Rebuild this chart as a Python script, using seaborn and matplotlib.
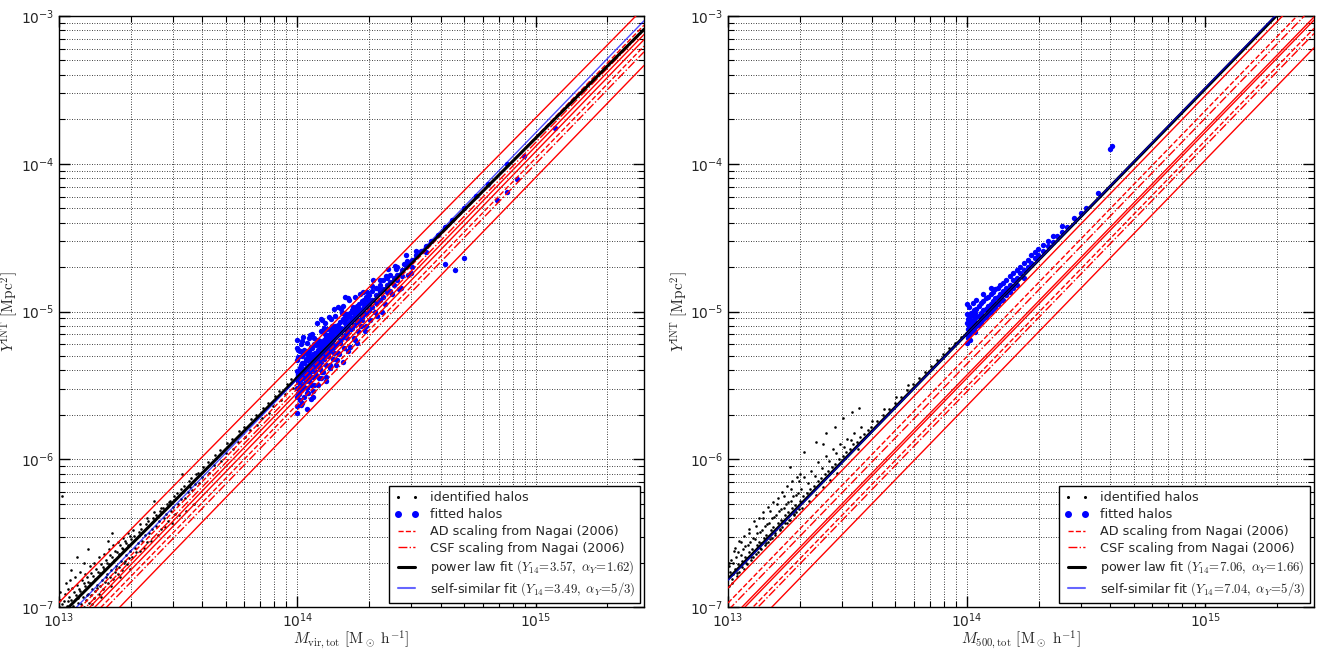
import numpy as np
import matplotlib
matplotlib.use("Agg")
import matplotlib.pyplot as plt
import seaborn as sns
from matplotlib.lines import Line2D

# ---------------- data (log10 M [Msun/h], log10 Y [Mpc^2]) ----------------
left_identified = [
 (13.000,-7.00),(13.003,-7.11),(13.006,-6.95),(13.010,-7.08),(13.012,-6.98),(13.015,-7.14),
 (13.020,-6.96),(13.023,-7.05),(13.026,-6.91),(13.030,-7.09),(13.033,-6.99),(13.036,-6.88),
 (13.040,-7.04),(13.042,-6.93),(13.046,-7.10),(13.050,-6.95),(13.053,-7.05),(13.056,-6.87),(13.052,-6.75),
 (13.060,-6.99),(13.063,-6.90),(13.066,-7.06),(13.070,-6.92),(13.073,-7.02),(13.076,-6.85),
 (13.080,-6.97),(13.083,-6.88),(13.086,-7.03),(13.090,-6.89),(13.093,-6.98),(13.096,-6.82),
 (13.100,-6.93),(13.103,-6.84),(13.106,-7.00),(13.104,-6.70),(13.110,-6.86),(13.113,-6.95),(13.116,-6.80),
 (13.120,-6.91),(13.123,-6.83),(13.126,-6.97),(13.130,-6.84),(13.133,-6.92),(13.136,-6.77),
 (13.140,-6.88),(13.143,-6.79),(13.146,-6.94),(13.150,-6.81),(13.153,-6.89),(13.156,-6.74),
 (13.160,-6.85),(13.163,-6.76),(13.166,-6.91),(13.170,-6.77),(13.173,-6.86),(13.176,-6.71),
 (13.180,-6.82),(13.183,-6.73),(13.186,-6.88),(13.190,-6.74),(13.193,-6.83),(13.196,-6.68),
 (13.200,-6.78),(13.203,-6.70),(13.206,-6.84),(13.204,-6.55),(13.210,-6.71),(13.213,-6.80),(13.216,-6.65),
 (13.220,-6.75),(13.223,-6.66),(13.226,-6.81),(13.222,-6.50),(13.230,-6.68),(13.233,-6.76),(13.236,-6.62),
 (13.240,-6.72),(13.243,-6.63),(13.246,-6.78),(13.250,-6.64),(13.253,-6.73),(13.256,-6.58),
 (13.260,-6.69),(13.263,-6.60),(13.266,-6.75),(13.270,-6.61),(13.273,-6.70),(13.276,-6.55),
 (13.280,-6.65),(13.283,-6.57),(13.286,-6.71),(13.290,-6.58),(13.293,-6.67),(13.296,-6.52),
 (13.300,-6.62),(13.304,-6.54),(13.308,-6.66),(13.315,-6.52),(13.319,-6.60),
 (13.330,-6.57),(13.334,-6.49),(13.338,-6.62),(13.345,-6.47),(13.349,-6.55),
 (13.360,-6.51),(13.364,-6.44),(13.368,-6.56),(13.375,-6.42),(13.379,-6.50),
 (13.390,-6.47),(13.394,-6.40),(13.398,-6.28),(13.405,-6.38),(13.409,-6.45),
 (13.420,-6.42),(13.424,-6.35),(13.428,-6.47),(13.435,-6.33),(13.439,-6.40),
 (13.450,-6.37),(13.454,-6.30),(13.458,-6.42),(13.465,-6.28),(13.469,-6.35),
 (13.480,-6.32),(13.484,-6.25),(13.488,-6.37),(13.495,-6.23),(13.499,-6.30),
 (13.510,-6.27),(13.514,-6.20),(13.518,-6.10),(13.525,-6.18),(13.529,-6.26),
 (13.540,-6.22),(13.544,-6.15),(13.555,-6.13),(13.559,-6.21),(13.570,-6.17),(13.574,-6.10),
 (13.585,-6.09),(13.589,-6.16),(13.600,-6.12),(13.605,-6.05),(13.625,-6.02),(13.630,-6.09),
 (13.650,-6.04),(13.655,-5.97),(13.675,-5.94),(13.680,-6.01),(13.700,-5.96),(13.705,-5.89),
 (13.725,-5.86),(13.730,-5.93),(13.750,-5.88),(13.755,-5.81),(13.775,-5.78),(13.780,-5.85),
 (13.800,-5.80),(13.805,-5.73),(13.825,-5.70),(13.830,-5.77),(13.850,-5.72),(13.855,-5.65),
 (13.875,-5.62),(13.880,-5.69),(13.900,-5.64),(13.905,-5.57),(13.925,-5.54),(13.930,-5.60),
 (13.950,-5.56),(13.955,-5.49),(13.975,-5.46),(13.980,-5.52),(14.000,-5.48),(14.020,-5.40),
 (14.050,-5.33),(14.100,-5.31),(14.150,-5.18),(14.200,-5.15),
 (13.011,-6.25),(13.074,-6.66),(13.122,-6.61),
 (13.005,-6.90),(13.018,-7.02),(13.028,-6.84),(13.038,-6.96),(13.048,-6.82),(13.058,-7.08),
 (13.068,-6.80),(13.078,-6.94),(13.088,-6.76),(13.098,-7.01),(13.108,-6.78),(13.118,-6.92),
 (13.128,-6.72),(13.138,-6.98),(13.148,-6.70),(13.158,-6.87),(13.168,-6.66),(13.178,-6.93),
 (13.188,-6.64),(13.198,-6.80),(13.208,-6.61),(13.218,-6.86),(13.228,-6.58),(13.238,-6.74),
 (13.248,-6.56),(13.258,-6.80),(13.268,-6.53),(13.278,-6.69),(13.288,-6.50),(13.298,-6.74),
 (13.310,-6.48),(13.325,-6.63),(13.340,-6.44),(13.355,-6.60),(13.370,-6.40),(13.385,-6.55),
 (13.400,-6.36),(13.415,-6.51),(13.430,-6.33),(13.445,-6.46),(13.460,-6.29),(13.475,-6.43),
 (13.490,-6.26),(13.505,-6.38),(13.520,-6.22),(13.535,-6.35),(13.550,-6.19),(13.565,-6.30),
]

left_fitted = [
 (14.000,-5.45),(14.000,-5.33),(14.000,-5.58),(14.000,-5.25),(14.000,-5.64),(14.000,-5.40),(14.000,-5.52),(14.000,-5.19),(14.000,-5.69),
 (14.005,-5.42),(14.005,-5.31),(14.005,-5.55),(14.005,-5.47),
 (14.010,-5.38),(14.010,-5.50),(14.010,-5.27),(14.010,-5.60),(14.010,-5.44),
 (14.015,-5.36),(14.015,-5.46),(14.015,-5.53),(14.015,-5.22),
 (14.020,-5.41),(14.020,-5.30),(14.020,-5.49),(14.020,-5.35),(14.020,-5.62),
 (14.025,-5.39),(14.025,-5.45),(14.025,-5.28),
 (14.030,-5.35),(14.030,-5.43),(14.030,-5.26),(14.030,-5.51),
 (14.035,-5.40),(14.035,-5.32),(14.035,-5.47),
 (14.040,-5.37),(14.040,-5.29),(14.040,-5.44),(14.040,-5.21),
 (14.045,-5.33),(14.045,-5.41),(14.045,-5.55),
 (14.050,-5.36),(14.050,-5.27),(14.050,-5.42),(14.050,-5.31),
 (14.055,-5.30),(14.055,-5.39),(14.055,-5.48),
 (14.060,-5.33),(14.060,-5.25),(14.060,-5.40),(14.060,-5.15),
 (14.065,-5.35),(14.065,-5.29),(14.065,-5.44),
 (14.070,-5.30),(14.070,-5.37),(14.070,-5.22),(14.070,-5.50),
 (14.075,-5.28),(14.075,-5.34),(14.075,-5.40),
 (14.080,-5.31),(14.080,-5.23),(14.080,-5.37),(14.080,-5.28),
 (14.085,-5.26),(14.085,-5.33),(14.085,-5.19),
 (14.090,-5.29),(14.090,-5.22),(14.090,-5.36),(14.090,-5.45),
 (14.095,-5.25),(14.095,-5.31),(14.095,-5.20),
 (14.100,-5.28),(14.100,-5.21),(14.100,-5.34),(14.100,-5.13),
 (14.105,-5.24),(14.105,-5.30),(14.105,-5.41),
 (14.110,-5.26),(14.110,-5.19),(14.110,-5.32),(14.110,-5.23),
 (14.115,-5.22),(14.115,-5.28),(14.115,-5.15),
 (14.120,-5.24),(14.120,-5.17),(14.120,-5.30),(14.120,-5.36),
 (14.125,-5.20),(14.125,-5.26),(14.125,-5.12),
 (14.130,-5.23),(14.130,-5.16),(14.130,-5.28),(14.130,-5.20),
 (14.135,-5.18),(14.135,-5.24),
 (14.140,-5.21),(14.140,-5.14),(14.140,-5.27),(14.140,-5.05),
 (14.145,-5.17),(14.145,-5.23),
 (14.150,-5.19),(14.150,-5.12),(14.150,-5.25),(14.150,-5.16),
 (14.160,-5.17),(14.160,-5.10),(14.160,-5.23),(14.160,-5.13),
 (14.170,-5.15),(14.170,-5.09),(14.170,-5.21),(14.170,-5.28),
 (14.180,-5.14),(14.180,-5.07),(14.180,-5.19),(14.180,-5.11),
 (14.190,-5.12),(14.190,-5.05),(14.190,-5.17),(14.190,-4.96),
 (14.200,-5.11),(14.200,-5.04),(14.200,-5.16),(14.200,-5.08),
 (14.210,-5.09),(14.210,-5.02),(14.210,-5.14),
 (14.220,-5.07),(14.220,-5.01),(14.220,-5.12),(14.220,-5.04),
 (14.230,-5.06),(14.230,-4.99),(14.230,-5.11),
 (14.240,-5.04),(14.240,-4.98),(14.240,-5.09),(14.240,-5.01),
 (14.250,-5.02),(14.250,-4.96),(14.250,-5.07),
 (14.260,-5.01),(14.260,-4.95),(14.260,-5.06),(14.260,-4.98),
 (14.270,-4.99),(14.270,-4.93),(14.270,-5.04),
 (14.280,-4.97),(14.280,-4.92),(14.280,-5.02),(14.280,-4.95),
 (14.290,-4.96),(14.290,-4.90),(14.290,-5.01),
 (14.300,-4.94),(14.300,-4.89),(14.300,-4.99),(14.300,-4.92),
 (14.315,-4.92),(14.315,-4.86),(14.315,-4.97),
 (14.330,-4.89),(14.330,-4.84),(14.330,-4.94),
 (14.345,-4.87),(14.345,-4.82),(14.345,-4.92),
 (14.360,-4.85),(14.360,-4.79),(14.360,-4.90),
 (14.375,-4.82),(14.375,-4.77),(14.375,-4.87),
 (14.390,-4.80),(14.390,-4.75),(14.405,-4.77),(14.405,-4.82),
 (14.420,-4.75),(14.420,-4.70),(14.420,-4.79),(14.440,-4.72),(14.440,-4.76),
 (14.460,-4.69),(14.460,-4.66),(14.480,-4.65),(14.480,-4.70),(14.500,-4.62),(14.500,-4.59),
 (14.520,-4.59),(14.540,-4.56),(14.540,-4.60),(14.560,-4.52),(14.590,-4.48),
 (14.620,-4.43),(14.620,-4.68),(14.650,-4.38),(14.660,-4.72),(14.700,-4.30),(14.700,-4.64),
 (14.750,-4.22),(14.800,-4.14),(14.840,-4.245),(14.880,-4.00),(14.880,-4.19),(14.920,-4.10),
 (14.950,-3.95),(15.080,-3.76),
 (14.199,-4.90),(14.170,-4.97),(14.056,-5.59),(14.040,-5.66),(14.100,-5.05),
 (14.002,-5.26),(14.007,-5.56),(14.013,-5.38),(14.016,-5.63),(14.024,-5.17),(14.029,-5.43),
 (14.031,-5.27),(14.039,-5.55),(14.044,-5.29),(14.047,-5.45),(14.052,-5.16),(14.059,-5.50),
 (14.062,-5.33),(14.067,-5.58),(14.072,-5.18),(14.079,-5.37),(14.082,-5.20),(14.087,-5.50),
 (14.094,-5.23),(14.097,-5.39),(14.104,-5.06),(14.109,-5.41),(14.112,-5.11),(14.119,-5.47),
 (14.124,-5.21),(14.127,-5.30),(14.134,-5.04),(14.139,-5.38),(14.142,-5.12),(14.149,-5.32),
 (14.156,-4.98),(14.163,-5.36),(14.168,-5.12),(14.177,-5.29),(14.183,-4.98),(14.191,-5.34),
 (14.198,-5.01),(14.207,-5.18),(14.213,-4.91),(14.222,-5.24),(14.228,-5.00),(14.237,-5.18),
 (14.243,-4.90),(14.252,-5.21),(14.258,-4.98),(14.267,-5.10),(14.274,-4.87),(14.283,-5.13),
 (14.292,-4.87),(14.305,-5.06),(14.318,-4.79),(14.333,-5.03),(14.348,-4.79),(14.366,-4.95),
 (14.382,-4.71),(14.398,-4.88),(14.415,-4.71),(14.437,-4.84),(14.455,-4.62),(14.478,-4.74),
 (14.004,-5.43),(14.011,-5.27),(14.019,-5.51),(14.021,-5.20),(14.027,-5.58),(14.036,-5.33),
 (14.041,-5.52),(14.049,-5.18),(14.054,-5.38),(14.057,-5.24),(14.064,-5.54),(14.069,-5.31),
 (14.077,-5.43),(14.084,-5.08),(14.089,-5.36),(14.092,-5.21),(14.099,-5.45),(14.106,-5.14),
 (14.114,-5.29),(14.117,-5.08),(14.122,-5.44),(14.129,-5.22),(14.137,-5.36),(14.144,-5.10),
 (14.152,-5.28),(14.159,-5.03),(14.166,-5.33),(14.173,-5.13),(14.181,-5.21),(14.188,-5.01),
 (14.196,-5.25),(14.203,-5.05),(14.211,-5.27),(14.219,-4.92),(14.226,-5.12),(14.234,-4.97),
 (14.241,-5.19),(14.249,-5.00),(14.256,-5.13),(14.263,-4.88),(14.271,-5.06),(14.279,-4.92),
 (14.288,-5.10),(14.297,-4.94),(14.312,-4.83),(14.327,-5.00),(14.341,-4.85),(14.357,-5.00),
 (14.373,-4.76),(14.391,-4.86),(14.408,-4.69),(14.426,-4.85),(14.447,-4.68),(14.466,-4.75),
]

right_identified = [
 (13.000,-6.80),(13.003,-6.72),(13.006,-6.86),(13.010,-6.76),(13.013,-6.68),(13.016,-6.81),
 (13.020,-6.78),(13.023,-6.70),(13.026,-6.62),(13.030,-6.74),(13.033,-6.66),(13.036,-6.79),
 (13.040,-6.71),(13.043,-6.63),(13.046,-6.76),(13.050,-6.72),(13.053,-6.65),(13.056,-6.56),
 (13.060,-6.69),(13.063,-6.61),(13.066,-6.74),(13.070,-6.66),(13.073,-6.59),(13.076,-6.70),
 (13.080,-6.67),(13.083,-6.58),(13.086,-6.50),(13.090,-6.63),(13.093,-6.56),(13.096,-6.68),
 (13.100,-6.61),(13.103,-6.53),(13.106,-6.66),(13.110,-6.62),(13.113,-6.54),(13.116,-6.45),
 (13.120,-6.58),(13.123,-6.50),(13.126,-6.63),(13.130,-6.56),(13.133,-6.49),(13.136,-6.60),
 (13.140,-6.57),(13.143,-6.48),(13.146,-6.40),(13.150,-6.53),(13.153,-6.45),(13.156,-6.58),
 (13.160,-6.51),(13.163,-6.44),(13.166,-6.56),(13.170,-6.52),(13.173,-6.43),(13.176,-6.35),
 (13.180,-6.48),(13.183,-6.40),(13.186,-6.53),(13.190,-6.46),(13.193,-6.39),(13.196,-6.51),
 (13.200,-6.47),(13.203,-6.38),(13.206,-6.30),(13.210,-6.43),(13.213,-6.35),(13.216,-6.48),
 (13.220,-6.41),(13.223,-6.34),(13.226,-6.46),(13.230,-6.42),(13.233,-6.33),(13.236,-6.25),
 (13.240,-6.38),(13.243,-6.30),(13.246,-6.43),(13.250,-6.36),(13.253,-6.29),(13.256,-6.41),
 (13.260,-6.37),(13.263,-6.28),(13.266,-6.20),(13.270,-6.33),(13.273,-6.25),(13.276,-6.38),
 (13.280,-6.31),(13.283,-6.24),(13.286,-6.36),(13.290,-6.32),(13.293,-6.23),(13.296,-6.15),
 (13.300,-6.28),(13.304,-6.20),(13.308,-6.33),(13.315,-6.25),(13.319,-6.12),
 (13.330,-6.23),(13.334,-6.16),(13.338,-6.28),(13.345,-6.20),(13.349,-6.08),
 (13.360,-6.18),(13.364,-6.11),(13.368,-6.24),(13.375,-6.15),(13.379,-6.02),
 (13.390,-6.13),(13.394,-6.06),(13.398,-6.19),(13.405,-6.10),(13.409,-5.98),
 (13.420,-6.08),(13.424,-6.01),(13.428,-6.14),(13.435,-6.05),(13.439,-5.93),
 (13.450,-6.03),(13.454,-5.96),(13.458,-6.09),(13.465,-6.00),(13.469,-5.90),
 (13.480,-5.98),(13.484,-5.92),(13.495,-5.95),(13.499,-5.86),(13.510,-5.93),(13.514,-5.87),
 (13.525,-5.90),(13.529,-5.82),(13.540,-5.88),(13.544,-5.93),(13.555,-5.85),(13.559,-5.78),
 (13.570,-5.83),(13.585,-5.80),(13.600,-5.78),(13.605,-5.74),(13.625,-5.74),(13.650,-5.70),
 (13.655,-5.66),(13.675,-5.66),(13.700,-5.62),(13.705,-5.58),(13.725,-5.58),(13.750,-5.53),
 (13.755,-5.50),(13.775,-5.49),(13.800,-5.45),(13.825,-5.41),(13.850,-5.37),(13.875,-5.33),
 (13.900,-5.29),(13.925,-5.25),(13.950,-5.21),(13.975,-5.17),
 (13.260,-6.05),(13.320,-5.95),(13.370,-5.88),(13.410,-5.82),(13.450,-5.78),(13.480,-5.72),
 (13.520,-5.68),(13.300,-6.10),(13.400,-5.90),(13.550,-5.65),
 (13.005,-6.70),(13.018,-6.84),(13.028,-6.60),(13.038,-6.77),(13.048,-6.55),(13.058,-6.73),
 (13.068,-6.52),(13.078,-6.71),(13.088,-6.47),(13.098,-6.66),(13.108,-6.42),(13.118,-6.64),
 (13.128,-6.40),(13.138,-6.61),(13.148,-6.36),(13.158,-6.57),(13.168,-6.32),(13.178,-6.54),
 (13.188,-6.29),(13.198,-6.50),(13.208,-6.26),(13.218,-6.47),(13.228,-6.22),(13.238,-6.43),
 (13.248,-6.18),(13.258,-6.41),(13.268,-6.15),(13.278,-6.37),(13.288,-6.12),(13.298,-6.34),
]

right_fitted = [
 (14.000,-5.15),(14.000,-5.08),(14.000,-5.21),(14.000,-5.02),(14.000,-4.95),
 (14.005,-5.12),(14.005,-5.05),(14.005,-5.18),(14.010,-5.10),(14.010,-5.03),(14.010,-5.16),(14.010,-4.97),
 (14.015,-5.11),(14.015,-5.06),(14.015,-5.19),(14.020,-5.08),(14.020,-5.01),(14.020,-5.14),
 (14.025,-5.09),(14.025,-5.03),(14.025,-4.94),(14.030,-5.06),(14.030,-4.99),(14.030,-5.12),
 (14.035,-5.07),(14.035,-5.01),(14.035,-5.14),(14.040,-5.04),(14.040,-4.98),(14.040,-5.10),(14.040,-4.92),
 (14.050,-5.03),(14.050,-4.96),(14.050,-5.09),(14.060,-5.01),(14.060,-4.94),(14.060,-5.07),
 (14.070,-4.99),(14.070,-4.93),(14.070,-5.05),(14.070,-4.88),(14.080,-4.98),(14.080,-4.91),(14.080,-5.04),
 (14.090,-4.96),(14.090,-4.90),(14.090,-5.02),(14.100,-4.95),(14.100,-4.88),(14.100,-5.00),(14.100,-4.84),
 (14.110,-4.93),(14.110,-4.87),(14.110,-4.98),(14.120,-4.91),(14.120,-4.85),(14.120,-4.97),
 (14.130,-4.90),(14.130,-4.84),(14.130,-4.95),(14.140,-4.88),(14.140,-4.82),(14.140,-4.93),
 (14.150,-4.86),(14.150,-4.81),(14.150,-4.92),(14.165,-4.84),(14.165,-4.79),(14.165,-4.89),
 (14.180,-4.82),(14.180,-4.76),(14.180,-4.87),(14.195,-4.79),(14.195,-4.74),(14.195,-4.84),
 (14.210,-4.77),(14.210,-4.72),(14.210,-4.82),(14.225,-4.74),(14.225,-4.70),
 (14.240,-4.72),(14.240,-4.67),(14.240,-4.77),(14.255,-4.70),(14.255,-4.65),
 (14.270,-4.67),(14.270,-4.62),(14.285,-4.64),(14.285,-4.60),(14.300,-4.62),(14.300,-4.58),
 (14.320,-4.59),(14.320,-4.55),(14.340,-4.56),(14.340,-4.52),(14.360,-4.53),(14.360,-4.49),
 (14.380,-4.49),(14.400,-4.46),(14.400,-4.42),(14.420,-4.43),(14.450,-4.37),(14.480,-4.33),
 (14.500,-4.30),(14.550,-4.20),(14.600,-3.90),(14.610,-3.88),
]

# power-law parameters read from the legends (Y14 in 1e-6 Mpc^2) and red reference lines
left_fit = (3.57, 1.62)
left_selfsim = (3.49, 5 / 3)
right_fit = (7.06, 1.66)
right_selfsim = (7.04, 5 / 3)

left_red_solid = [(4.68, 1.64), (2.82, 5 / 3), (2.60, 5 / 3), (1.74, 5 / 3)]
left_red_dashed = [(3.26, 5 / 3), (2.35, 5 / 3)]
left_red_dashdot = [(3.00, 5 / 3), (2.15, 5 / 3)]
right_red_solid = [(6.24, 5 / 3), (3.70, 5 / 3), (3.53, 5 / 3), (2.29, 5 / 3)]
right_red_dashed = [(4.94, 5 / 3), (3.10, 5 / 3)]
right_red_dashdot = [(4.40, 5 / 3), (2.86, 5 / 3)]

XMIN, XMAX = 1e13, 2.85e15

# ---------------- style ----------------
sns.set_style("ticks")
plt.rcParams["font.family"] = ["DejaVu Sans"]
plt.rcParams["mathtext.fontset"] = "cm"
plt.rcParams["axes.unicode_minus"] = False
plt.rcParams["axes.edgecolor"] = "black"
plt.rcParams["axes.linewidth"] = 1.0

fig = plt.figure(figsize=(13.24, 6.49), dpi=100)
W, H = 1324, 649
axL = fig.add_axes([59 / W, 1 - 607 / H, 585 / W, 591 / H])
axR = fig.add_axes([728 / W, 1 - 607 / H, 586 / W, 591 / H])

mgrid = np.geomspace(XMIN, XMAX, 60)


def powerlaw(y14, alpha):
    return y14 * 1e-6 * (mgrid / 1e14) ** alpha


def draw(ax, identified, fitted, fit, selfsim, reds, redd, reddd, xlabel, ylab_x):
    ax.set_xscale("log")
    ax.set_yscale("log")
    idm = 10 ** np.array([p[0] for p in identified])
    idy = 10 ** np.array([p[1] for p in identified])
    fm = 10 ** np.array([p[0] for p in fitted])
    fy = 10 ** np.array([p[1] for p in fitted])
    sns.scatterplot(x=idm, y=idy, ax=ax, color="black", s=3.5, linewidth=0, zorder=2)
    sns.scatterplot(x=fm, y=fy, ax=ax, color="blue", s=15, linewidth=0, zorder=3)
    for y14, a in reds:
        sns.lineplot(x=mgrid, y=powerlaw(y14, a), ax=ax, color="red", lw=1.0, zorder=4)
    for y14, a in redd:
        sns.lineplot(x=mgrid, y=powerlaw(y14, a), ax=ax, color="red", lw=1.0,
                     linestyle="--", zorder=4)
    for y14, a in reddd:
        sns.lineplot(x=mgrid, y=powerlaw(y14, a), ax=ax, color="red", lw=1.0,
                     linestyle="-.", zorder=4)
    sns.lineplot(x=mgrid, y=powerlaw(*fit), ax=ax, color="black", lw=2.2, zorder=5)
    sns.lineplot(x=mgrid, y=powerlaw(*selfsim), ax=ax, color="blue", lw=1.0,
                 alpha=0.7, zorder=6)
    ax.set_xlim(XMIN, XMAX)
    ax.set_ylim(1e-7, 1e-3)
    ax.grid(True, which="both", color="black", linestyle=(0, (1, 2)), linewidth=0.6)
    ax.tick_params(which="both", direction="in", top=True, right=True, labelsize=10,
                   color="black")
    ax.tick_params(which="major", length=8, width=1)
    ax.tick_params(which="minor", length=4, width=0.8)
    ax.set_xlabel(xlabel, fontsize=11)
    ax.set_ylabel(r"$Y^{\rm INT}\ [\rm Mpc^2]$", fontsize=11)
    ax.xaxis.set_label_coords(0.5, -0.037)
    ax.yaxis.set_label_coords(ylab_x, 0.5)
    for s in ax.spines.values():
        s.set_visible(True)
        s.set_color("black")

    handles = [
        Line2D([], [], ls="none", marker="o", ms=1.2, color="black"),
        Line2D([], [], ls="none", marker="o", ms=4, color="blue", mec="blue"),
        Line2D([], [], color="red", ls="--", lw=1.0),
        Line2D([], [], color="red", ls="-.", lw=1.0),
        Line2D([], [], color="black", lw=2.2),
        Line2D([], [], color="blue", lw=1.5, alpha=0.6),
    ]
    labels = [
        "identified halos",
        "fitted halos",
        "AD scaling from Nagai (2006)",
        "CSF scaling from Nagai (2006)",
        r"power law fit $(Y_{14}\!=\!%.2f,\ \alpha_Y\!=\!%.2f)$" % fit,
        r"self-similar fit $(Y_{14}\!=\!%.2f,\ \alpha_Y\!=\!5/3)$" % selfsim[0],
    ]
    leg = ax.legend(handles, labels, loc="lower right", numpoints=2, fontsize=9.2,
                    frameon=True, fancybox=False, framealpha=1, edgecolor="black",
                    borderaxespad=0.3, handlelength=2.0, handletextpad=0.8,
                    labelspacing=0.3, borderpad=0.4)
    leg.get_frame().set_linewidth(1.0)


draw(axL, left_identified, left_fitted, left_fit, left_selfsim,
     left_red_solid, left_red_dashed, left_red_dashdot,
     r"$M_{\rm vir,tot}\ [\rm M_\odot\ h^{-1}]$", -0.066)
draw(axR, right_identified, right_fitted, right_fit, right_selfsim,
     right_red_solid, right_red_dashed, right_red_dashdot,
     r"$M_{\rm 500,tot}\ [\rm M_\odot\ h^{-1}]$", -0.064)

fig.savefig("out.png", dpi=100)
